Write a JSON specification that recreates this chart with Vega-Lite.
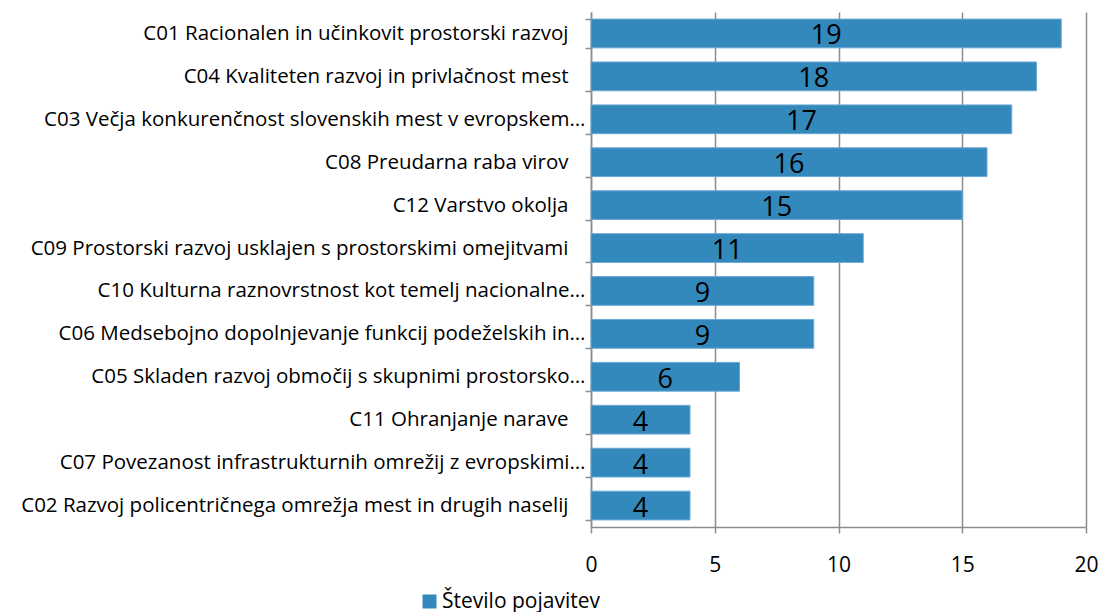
{
  "$schema": "https://vega.github.io/schema/vega-lite/v6.json",
  "width": 495,
  "height": 515,
  "autosize": {"type": "none"},
  "padding": {"left": 591, "top": 12, "right": 16, "bottom": 85},
  "background": "white",
  "config": {"view": {"stroke": null}, "font": "Open Sans"},
  "data": {
    "values": [
      {"goal": "C01 Racionalen in učinkovit prostorski razvoj", "value": 19, "series": "Število pojavitev"},
      {"goal": "C04 Kvaliteten razvoj in privlačnost mest", "value": 18, "series": "Število pojavitev"},
      {"goal": "C03 Večja konkurenčnost slovenskih mest v evropskem…", "value": 17, "series": "Število pojavitev"},
      {"goal": "C08 Preudarna raba virov", "value": 16, "series": "Število pojavitev"},
      {"goal": "C12 Varstvo okolja", "value": 15, "series": "Število pojavitev"},
      {"goal": "C09 Prostorski razvoj usklajen s prostorskimi omejitvami", "value": 11, "series": "Število pojavitev"},
      {"goal": "C10 Kulturna raznovrstnost kot temelj nacionalne…", "value": 9, "series": "Število pojavitev"},
      {"goal": "C06 Medsebojno dopolnjevanje funkcij podeželskih in…", "value": 9, "series": "Število pojavitev"},
      {"goal": "C05 Skladen razvoj območij s skupnimi prostorsko…", "value": 6, "series": "Število pojavitev"},
      {"goal": "C11 Ohranjanje narave", "value": 4, "series": "Število pojavitev"},
      {"goal": "C07 Povezanost infrastrukturnih omrežij z evropskimi…", "value": 4, "series": "Število pojavitev"},
      {"goal": "C02 Razvoj policentričnega omrežja mest in drugih naselij", "value": 4, "series": "Število pojavitev"}
    ]
  },
  "encoding": {
    "y": {
      "field": "goal",
      "type": "nominal",
      "sort": null,
      "scale": {"paddingInner": 0.33, "paddingOuter": 0.165},
      "axis": {
        "title": null,
        "domainColor": "#8c8c8c",
        "domainWidth": 1.5,
        "tickColor": "#8c8c8c",
        "tickWidth": 1.5,
        "tickSize": 6,
        "tickBand": "extent",
        "labelFont": "Open Sans",
        "labelFontSize": 20.5,
        "labelColor": "#000000",
        "labelPadding": {"condition": {"test": "indexof(datum.label, '…') < 0", "value": 17}, "value": 0},
        "labelLimit": 0
      }
    }
  },
  "layer": [
    {
      "mark": {"type": "bar", "stroke": "#6aa9d6", "strokeWidth": 1},
      "encoding": {
        "x": {
          "field": "value",
          "type": "quantitative",
          "scale": {"domain": [0, 20], "nice": false},
          "axis": {
            "title": null,
            "values": [0, 5, 10, 15, 20],
            "grid": true,
            "gridColor": "#8c8c8c",
            "gridWidth": 1.5,
            "domainColor": "#8c8c8c",
            "domainWidth": 1.5,
            "tickColor": "#8c8c8c",
            "tickWidth": 1.5,
            "tickSize": 6,
            "labelFont": "Open Sans",
            "labelFontSize": 21,
            "labelColor": "#000000",
            "labelPadding": 21,
            "labelFlush": false
          }
        },
        "color": {
          "field": "series",
          "type": "nominal",
          "scale": {"range": ["#3388bc"]},
          "legend": {
            "title": null,
            "orient": "none",
            "legendX": -172,
            "legendY": 579,
            "symbolType": "square",
            "symbolSize": 196,
            "symbolStrokeWidth": 0,
            "labelFont": "Open Sans",
            "labelFontSize": 21,
            "labelColor": "#000000",
            "labelOffset": 2
          }
        }
      }
    },
    {
      "transform": [{"calculate": "datum.value / 2", "as": "labelPos"}],
      "mark": {"type": "text", "fontSize": 27, "font": "Open Sans", "color": "#000000", "align": "center", "baseline": "middle", "dy": 3},
      "encoding": {
        "x": {"field": "labelPos", "type": "quantitative"},
        "text": {"field": "value", "type": "quantitative"}
      }
    }
  ]
}
